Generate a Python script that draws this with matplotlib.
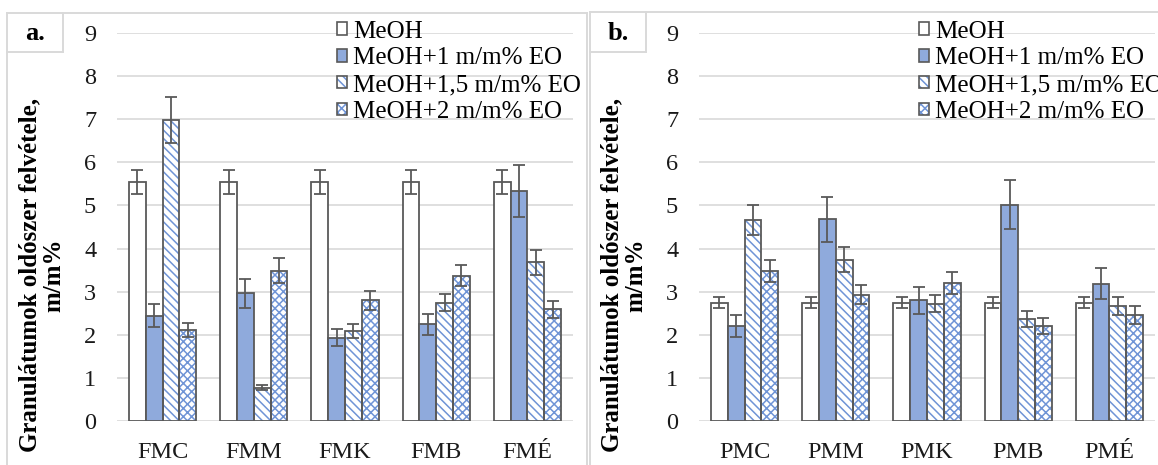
#! /usr/bin/env python
"""Oldoszer felvetel granulatumokban - ket panel (a. es b.)"""

import numpy as np
import matplotlib
matplotlib.use("Agg")
from matplotlib import pyplot as plt
from matplotlib.patches import Patch
from matplotlib.lines import Line2D

# Data
series_labels = ["MeOH", "MeOH+1 m/m% EO", "MeOH+1,5 m/m% EO", "MeOH+2 m/m% EO"]

cats_a = ["FMC", "FMM", "FMK", "FMB", "FMÉ"]
meoh_a = [5.55, 5.55, 5.55, 5.55, 5.55]
meoh_a_err = [0.28, 0.28, 0.28, 0.28, 0.28]
eo1_a = [2.44, 2.96, 1.93, 2.24, 5.34]
eo1_a_err = [0.27, 0.33, 0.20, 0.24, 0.60]
eo15_a = [6.99, 0.77, 2.08, 2.74, 3.68]
eo15_a_err = [0.53, 0.06, 0.16, 0.20, 0.29]
eo2_a = [2.11, 3.49, 2.80, 3.37, 2.59]
eo2_a_err = [0.17, 0.28, 0.22, 0.25, 0.20]

cats_b = ["PMC", "PMM", "PMK", "PMB", "PMÉ"]
meoh_b = [2.74, 2.74, 2.74, 2.74, 2.74]
meoh_b_err = [0.13, 0.13, 0.13, 0.13, 0.13]
eo1_b = [2.20, 4.68, 2.80, 5.02, 3.18]
eo1_b_err = [0.26, 0.52, 0.31, 0.56, 0.36]
eo15_b = [4.67, 3.74, 2.72, 2.36, 2.67]
eo15_b_err = [0.35, 0.29, 0.20, 0.18, 0.20]
eo2_b = [3.48, 2.93, 3.20, 2.20, 2.46]
eo2_b_err = [0.26, 0.22, 0.25, 0.18, 0.20]

y_label = "Granulátumok oldószer felvétele,\nm/m%"

# Style
W, H = 1158, 465
EDGE = "#595959"
BLUE = "#8faadc"
HATCH_BLUE = "#6f94d6"
GRID = "#d9d9d9"
BAR_W = 0.184
FONT = "Liberation Serif"

plt.rcParams["font.family"] = [FONT, "DejaVu Serif"]
plt.rcParams["hatch.linewidth"] = 1.1

# (face, hatch) per series
styles = [("white", None), (BLUE, None), ("white", "\\\\\\\\"), ("white", "xxxx")]


def draw_panel(ax, cats, vals, errs):
    """Grouped bars with error bars"""
    x = np.arange(len(cats))
    for i, (v, e) in enumerate(zip(vals, errs)):
        pos = x + (i - 1.5) * BAR_W
        face, hatch = styles[i]
        if hatch:
            ax.bar(pos, v, BAR_W, color=face, edgecolor=HATCH_BLUE,
                   hatch=hatch, linewidth=0, zorder=2)
            ax.bar(pos, v, BAR_W, fill=False, edgecolor=EDGE,
                   linewidth=1.3, zorder=3)
        else:
            ax.bar(pos, v, BAR_W, color=face, edgecolor=EDGE,
                   linewidth=1.3, zorder=3)
        ax.errorbar(pos, v, yerr=e, fmt="none", ecolor=EDGE,
                    elinewidth=1.3, capsize=4.2, capthick=1.3, zorder=4)

    ax.set_xlim(-0.5, len(cats) - 0.5)
    ax.set_ylim(0, 9)
    ax.set_yticks(range(10))
    ax.set_xticks(x)
    ax.set_xticklabels(cats)
    ax.yaxis.grid(True, color=GRID, linewidth=1.2)
    ax.set_axisbelow(True)
    for sp in ax.spines.values():
        sp.set_visible(False)
    ax.tick_params(axis="both", length=0, labelsize=17.5, colors="#1a1a1a")
    ax.tick_params(axis="y", pad=15)
    ax.tick_params(axis="x", pad=15)

    # legend: hatch in blue, outline in gray
    handles = []
    for face, hatch in styles:
        if hatch:
            handles.append((Patch(facecolor=face, edgecolor=HATCH_BLUE, hatch=hatch, linewidth=0),
                            Patch(fill=False, edgecolor=EDGE, linewidth=1.2)))
        else:
            handles.append(Patch(facecolor=face, edgecolor=EDGE, linewidth=1.2))
    ax.legend(handles, series_labels, loc="upper left", bbox_to_anchor=(0.483, 1.032),
              frameon=False, fontsize=18, handlelength=0.4, handleheight=0.4,
              handletextpad=0.25, labelspacing=0.19, borderpad=0, borderaxespad=0)


def main():
    """Entry point"""
    fig = plt.figure(figsize=(W / 100, H / 100), dpi=100)

    panels = [
        (117, 7, 587, 13, "a.", cats_a,
         [meoh_a, eo1_a, eo15_a, eo2_a], [meoh_a_err, eo1_a_err, eo15_a_err, eo2_a_err]),
        (699, 590, 1175, 12, "b.", cats_b,
         [meoh_b, eo1_b, eo15_b, eo2_b], [meoh_b_err, eo1_b_err, eo15_b_err, eo2_b_err]),
    ]
    for left, fx0, fx1, fy0, tag, cats, vals, errs in panels:
        ax = fig.add_axes([left / W, (H - 421) / H, 456 / W, 388 / H])
        draw_panel(ax, cats, vals, errs)

        # panel frame (pixel coords -> figure fraction)
        def line(xs, ys):
            fig.add_artist(Line2D([v / W for v in xs], [1 - v / H for v in ys],
                                  color=GRID, linewidth=1.4, transform=fig.transFigure))
        line([fx0, fx0], [fy0, H + 10])
        line([fx0, fx1], [fy0, fy0])
        line([fx1, fx1], [fy0, H + 10])
        # tag box
        line([fx0 + 56, fx0 + 56], [fy0, 52])
        line([fx0, fx0 + 56], [52, 52])
        fig.text((fx0 + 28) / W, 1 - 33 / H, tag, ha="center", va="center",
                 fontsize=19, fontweight="bold")

        # y label
        fig.text((left - 75) / W, 1 - 275 / H, y_label, rotation=90,
                 ha="center", va="center", multialignment="center",
                 fontsize=18, fontweight="bold", linespacing=1.05)

    fig.savefig("out.png", dpi=100)


#-------------------------------------------------------------------------------

if __name__ == "__main__":
    main()
